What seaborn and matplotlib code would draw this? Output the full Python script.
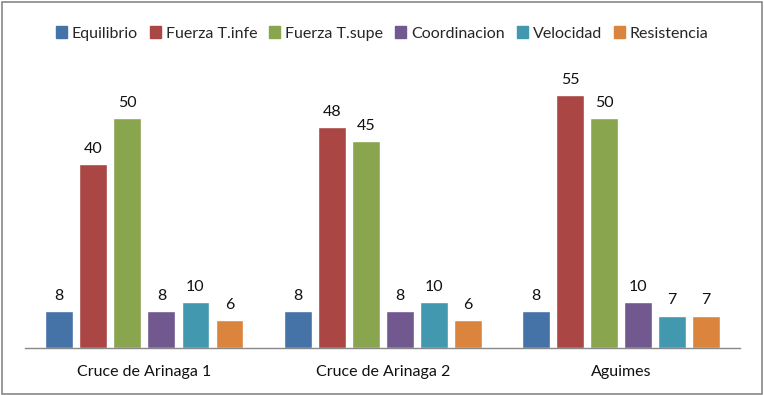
import pandas as pd
import matplotlib.pyplot as plt
import matplotlib.patches as mpatches
import seaborn as sns

# data
sites = ["Cruce de Arinaga 1", "Cruce de Arinaga 2", "Aguimes"]
qualities = ["Equilibrio", "Fuerza T.infe", "Fuerza T.supe", "Coordinacion", "Velocidad", "Resistencia"]
equilibrio = [8, 8, 8]
fuerza_infe = [40, 48, 55]
fuerza_supe = [50, 45, 50]
coordinacion = [8, 8, 10]
velocidad = [10, 10, 7]
resistencia = [6, 6, 7]
colors = ["#4572A7", "#AA4643", "#89A54E", "#71588F", "#4198AF", "#DB843D"]

series = [equilibrio, fuerza_infe, fuerza_supe, coordinacion, velocidad, resistencia]
rows = []
for q, vals in zip(qualities, series):
    for s, v in zip(sites, vals):
        rows.append({"site": s, "quality": q, "value": v})
df = pd.DataFrame(rows)

sns.set_style("white")
plt.rcParams["font.family"] = ["Lato", "DejaVu Sans"]

fig = plt.figure(figsize=(7.64, 3.95), dpi=100)
ax = fig.add_axes([0.033, 0.119, 0.936, 0.699])

sns.barplot(data=df, x="site", y="value", hue="quality", order=sites, hue_order=qualities,
            palette=colors, saturation=1, width=0.857, gap=0.18, ax=ax, legend=False)

for c in ax.containers:
    ax.bar_label(c, padding=6, fontsize=11.5, color="#111111")

ax.set_ylim(0, 60)
ax.set_xlim(-0.5, 2.5)
ax.set_xlabel("")
ax.set_ylabel("")
ax.set_yticks([])
ax.tick_params(axis="x", length=0, pad=12, labelsize=11.5, labelcolor="#111111")
for side in ["top", "left", "right"]:
    ax.spines[side].set_visible(False)
ax.spines["bottom"].set_color("#888888")
ax.spines["bottom"].set_linewidth(1)

handles = [mpatches.Patch(color=c, label=q) for q, c in zip(qualities, colors)]
fig.legend(handles=handles, loc="center", bbox_to_anchor=(0.5, 0.915), ncol=6, frameon=False,
           fontsize=11.5, handlelength=0.7, handleheight=0.7, handletextpad=0.3, columnspacing=0.75)

# outer chart border
fig.patches.append(mpatches.Rectangle((0.002, 0.003), 0.995, 0.993, transform=fig.transFigure,
                                      fill=False, edgecolor="#888888", linewidth=1.2))

fig.savefig("out.png", dpi=100)
